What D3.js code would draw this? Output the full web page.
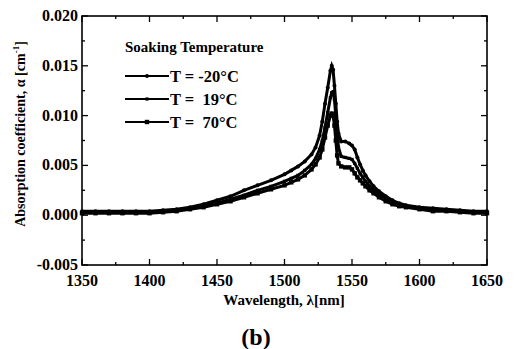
<!DOCTYPE html>
<html><head><meta charset="utf-8">
<script src="https://cdn.jsdelivr.net/npm/d3@7/dist/d3.min.js"></script>
<style>
html,body{margin:0;padding:0;background:#fff;}
svg{display:block;}
text{font-family:"Liberation Serif","DejaVu Serif",serif;font-weight:bold;fill:#000;white-space:pre;}
</style></head>
<body>
<svg id="chart" width="517" height="349"></svg>
<script>
const wavelengths = [1350,1360,1370,1380,1390,1400,1410,1420,1430,1440,1450,1460,1470,1480,1490,1500,1505,1510,1515,1520,1523,1526,1528,1530,1532,1534,1535,1536,1537,1538,1539,1540,1542,1545,1548,1550,1552,1554,1556,1558,1560,1563,1566,1570,1575,1580,1585,1590,1600,1610,1620,1630,1640,1650];
const seriesM20 = [0.0004,0.0004,0.0004,0.0004,0.0004,0.0004,0.0005,0.0006,0.0008,0.0011,0.0015,0.0019,0.0025,0.0030,0.0035,0.0041,0.0045,0.0049,0.0054,0.0061,0.0068,0.0080,0.0094,0.0112,0.0128,0.0145,0.0150,0.0146,0.0130,0.0112,0.0094,0.0082,0.0074,0.0074,0.0072,0.0070,0.0066,0.0058,0.0051,0.0045,0.0040,0.0034,0.0029,0.0024,0.0019,0.0015,0.0012,0.0010,0.0008,0.0007,0.0006,0.0005,0.0004,0.0004];
const series19 = [0.0003,0.0003,0.0003,0.0003,0.0003,0.0003,0.0004,0.0005,0.0007,0.0009,0.0012,0.0016,0.0020,0.0025,0.0029,0.0034,0.0037,0.0040,0.0045,0.0051,0.0057,0.0066,0.0075,0.0088,0.0103,0.0118,0.0123,0.0124,0.0116,0.0100,0.0083,0.0068,0.0059,0.0058,0.0057,0.0056,0.0052,0.0047,0.0042,0.0038,0.0034,0.0029,0.0025,0.0021,0.0017,0.0013,0.0011,0.0009,0.0007,0.0005,0.0005,0.0004,0.0003,0.0003];
const series70 = [0.0002,0.0002,0.0002,0.0002,0.0002,0.0002,0.0003,0.0004,0.0006,0.0008,0.0011,0.0014,0.0018,0.0022,0.0026,0.0030,0.0033,0.0036,0.0040,0.0046,0.0051,0.0058,0.0066,0.0078,0.0090,0.0100,0.0102,0.0100,0.0090,0.0075,0.0060,0.0052,0.0049,0.0048,0.0048,0.0046,0.0042,0.0038,0.0035,0.0032,0.0029,0.0025,0.0022,0.0018,0.0014,0.0011,0.0009,0.0008,0.0006,0.0004,0.0004,0.0003,0.0002,0.0002];
const legendLabels = ["T = -20\u00B0C","T =  19\u00B0C","T =  70\u00B0C"];
const legendTitle = "Soaking Temperature";
const xTicks = [1350,1400,1450,1500,1550,1600,1650];
const yTicks = [-0.005,0.000,0.005,0.010,0.015,0.020];
const xLabel = "Wavelength, \u03BB[nm]";
const yLabel = "Absorption coefficient, \u03B1 [cm";
const panelLabel = "(b)";

const FONT = "'Liberation Serif','DejaVu Serif',serif";
const svg = d3.select("#chart");
const L=82, R=487, T=16, B=265;
const x = d3.scaleLinear().domain([1350,1650]).range([L,R]);
const y = d3.scaleLinear().domain([-0.005,0.020]).range([B,T]);

// frame
svg.append("rect").attr("x",L).attr("y",T).attr("width",R-L).attr("height",B-T)
  .attr("fill","none").attr("stroke","#000").attr("stroke-width",1.6);

// ticks (inward, all sides)
const xMinor = d3.range(1375,1650,50);
const yMinor = d3.range(-0.0025,0.020,0.005);
const tg = svg.append("g").attr("stroke","#000").attr("stroke-width",1.3);
xTicks.forEach(v=>{tg.append("line").attr("x1",x(v)).attr("x2",x(v)).attr("y1",B).attr("y2",B-6);
  tg.append("line").attr("x1",x(v)).attr("x2",x(v)).attr("y1",T).attr("y2",T+6);});
xMinor.forEach(v=>{tg.append("line").attr("x1",x(v)).attr("x2",x(v)).attr("y1",B).attr("y2",B-3);
  tg.append("line").attr("x1",x(v)).attr("x2",x(v)).attr("y1",T).attr("y2",T+3);});
yTicks.forEach(v=>{tg.append("line").attr("y1",y(v)).attr("y2",y(v)).attr("x1",L).attr("x2",L+6);
  tg.append("line").attr("y1",y(v)).attr("y2",y(v)).attr("x1",R).attr("x2",R-6);});
yMinor.forEach(v=>{tg.append("line").attr("y1",y(v)).attr("y2",y(v)).attr("x1",L).attr("x2",L+3);
  tg.append("line").attr("y1",y(v)).attr("y2",y(v)).attr("x1",R).attr("x2",R-3);});

function txt(sel){ return sel.attr("font-family",FONT).attr("font-weight","bold"); }

// tick labels
xTicks.forEach(v=>txt(svg.append("text")).attr("x",x(v)).attr("y",286).attr("text-anchor","middle")
  .attr("font-size",16).text(v));
yTicks.forEach(v=>txt(svg.append("text")).attr("x",L-4).attr("y",y(v)+5).attr("text-anchor","end")
  .attr("font-size",16).text(d3.format(".3f")(v).replace("\u2212","-")));

// axis titles
txt(svg.append("text")).attr("x",284).attr("y",305).attr("text-anchor","middle").attr("font-size",15).text(xLabel);
const yl = txt(svg.append("text")).attr("transform","translate(25,134) rotate(-90)").attr("text-anchor","middle").attr("font-size",14);
yl.append("tspan").text(yLabel);
yl.append("tspan").attr("dy",-6).attr("font-size",9).text("-1");
yl.append("tspan").attr("dy",6).text("]");
txt(svg.append("text")).attr("x",256).attr("y",345).attr("text-anchor","middle").attr("font-size",24).text(panelLabel);

// curves
const series = [seriesM20, series19, series70];
const markers = ["circle","dash","square"];
const line = d3.line().x((d,i)=>x(wavelengths[i])).y(d=>y(d));
const cg = svg.append("g");
function drawMarker(g, kind, cx, cy){
  if(kind==="circle") g.append("circle").attr("cx",cx).attr("cy",cy).attr("r",2).attr("fill","#000");
  else if(kind==="square") g.append("rect").attr("x",cx-2.2).attr("y",cy-2.2).attr("width",4.4).attr("height",4.4).attr("fill","#000");
  else g.append("rect").attr("x",cx-1.6).attr("y",cy-1.6).attr("width",3.2).attr("height",3.2).attr("fill","#000");
}
series.forEach((s,k)=>{
  cg.append("path").datum(s).attr("d",line).attr("fill","none").attr("stroke","#000").attr("stroke-width",3);
  s.forEach((v,i)=>drawMarker(cg, markers[k], x(wavelengths[i]), y(v)));
});

// legend
txt(svg.append("text")).attr("x",125).attr("y",52).attr("font-size",15).text(legendTitle);
const ly = [76,99,122];
legendLabels.forEach((t,k)=>{
  svg.append("line").attr("x1",125).attr("x2",169).attr("y1",ly[k]).attr("y2",ly[k]).attr("stroke","#000").attr("stroke-width",1.8);
  drawMarker(svg, markers[k], 147, ly[k]);
  txt(svg.append("text")).attr("x",170).attr("y",ly[k]+6).attr("font-size",16.5).attr("xml:space","preserve").text(t);
});
</script>
</body></html>
